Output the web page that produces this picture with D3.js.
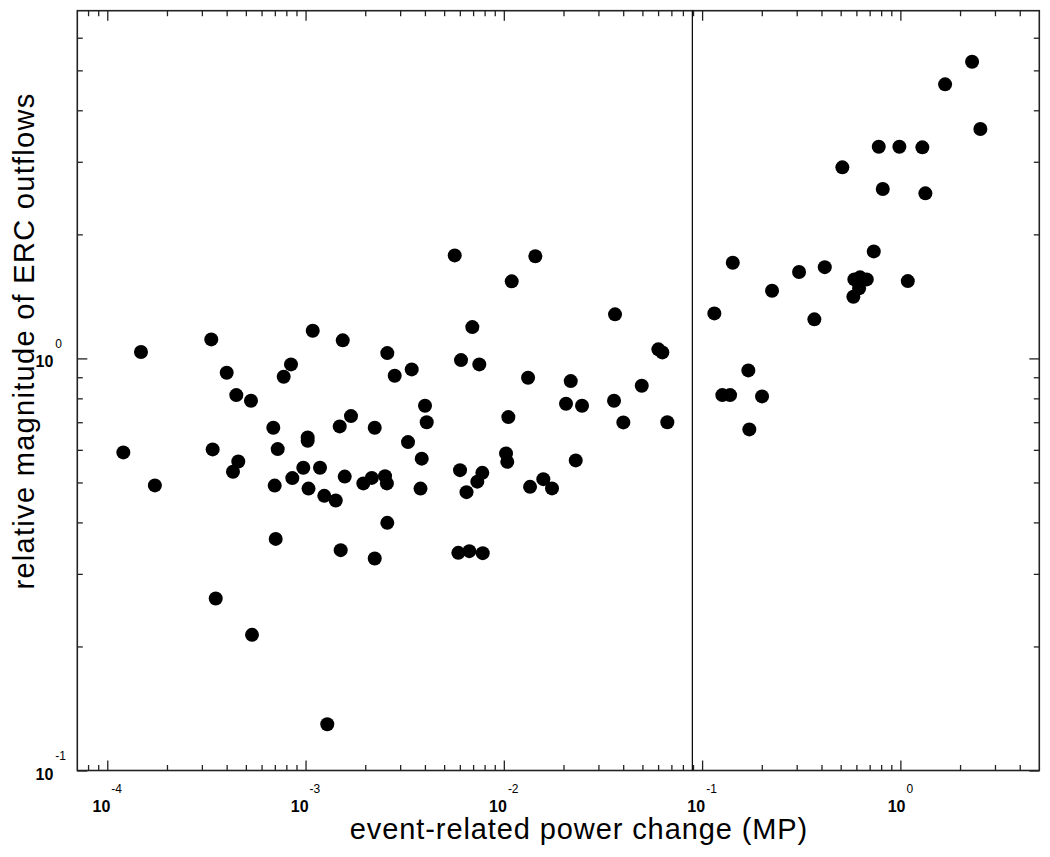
<!DOCTYPE html>
<html>
<head>
<meta charset="utf-8">
<script src="https://cdn.jsdelivr.net/npm/d3@7"></script>
<style>
  html, body { margin: 0; padding: 0; background: #fff; }
  svg { display: block; }
  text { font-family: "Liberation Sans", Arial, Helvetica, sans-serif; fill: #000; }
</style>
</head>
<body>
<svg id="chart" width="1050" height="857"></svg>
<script>
// ---- data ----
const powerChange = [1.205e-4, 1.479e-4, 1.738e-4, 3.346e-4, 3.400e-4, 3.523e-4, 4.002e-4, 4.305e-4, 4.474e-4, 4.579e-4,
  5.306e-4, 5.369e-4, 6.876e-4, 6.989e-4, 7.070e-4, 7.237e-4, 7.759e-4, 8.445e-4, 8.574e-4, 9.741e-4,
  1.025e-3, 1.025e-3, 1.035e-3, 1.087e-3, 1.183e-3, 1.243e-3, 1.287e-3, 1.420e-3, 1.487e-3, 1.504e-3,
  1.540e-3, 1.576e-3, 1.695e-3, 1.956e-3, 2.157e-3, 2.233e-3, 2.233e-3, 2.517e-3, 2.584e-3, 2.572e-3,
  2.584e-3, 2.816e-3, 3.287e-3, 3.431e-3, 3.800e-3, 3.854e-3, 4.004e-3, 4.084e-3, 5.653e-3, 5.895e-3,
  6.013e-3, 6.083e-3, 6.484e-3, 6.699e-3, 6.936e-3, 7.351e-3, 7.523e-3, 7.791e-3, 7.827e-3, 1.026e-2,
  1.041e-2, 1.054e-2, 1.096e-2, 1.325e-2, 1.356e-2, 1.442e-2, 1.582e-2, 1.750e-2, 2.059e-2, 2.175e-2,
  2.305e-2, 2.480e-2, 3.596e-2, 3.638e-2, 4.007e-2, 4.962e-2, 6.016e-2, 6.303e-2, 6.678e-2, 0.1153,
  0.1265, 0.1384, 0.1428, 0.1711, 0.1731, 0.2006, 0.2253, 0.3083, 0.3683, 0.4156,
  0.5098, 0.5793, 0.5861, 0.6191, 0.6263, 0.6769, 0.7342, 0.7780, 0.8152, 0.9885,
  1.090, 1.291, 1.337, 1.681, 2.300, 2.532];

const outflowMagnitude = [0.5914, 1.036, 0.4918, 1.112, 0.6014, 0.2615, 0.9226, 0.5306, 0.8146, 0.5623,
  0.7890, 0.2134, 0.6786, 0.4913, 0.3648, 0.6025, 0.9023, 0.9670, 0.5123, 0.5426,
  0.6431, 0.6310, 0.4831, 1.167, 0.5426, 0.4640, 0.1295, 0.4522, 0.6839, 0.3425,
  1.106, 0.5166, 0.7244, 0.4974, 0.5129, 0.6786, 0.3269, 0.5180, 1.030, 0.4974,
  0.3990, 0.9075, 0.6264, 0.9403, 0.4831, 0.5712, 0.7674, 0.6997, 1.778, 0.3374,
  0.5356, 0.9905, 0.4737, 0.3406, 1.191, 0.5023, 0.9670, 0.5276, 0.3368, 0.5881,
  0.5610, 0.7203, 1.538, 0.8972, 0.4879, 1.769, 0.5093, 0.4836, 0.7759, 0.8808,
  0.5655, 0.7674, 0.7890, 1.279, 0.6994, 0.8581, 1.052, 1.034, 0.7000, 1.286,
  0.8146, 0.8146, 1.706, 0.9352, 0.6725, 0.8088, 1.459, 1.620, 1.244, 1.665,
  2.908, 1.411, 1.555, 1.479, 1.573, 1.555, 1.818, 3.263, 2.576, 3.263,
  1.540, 3.252, 2.515, 4.624, 5.248, 3.602];

const xDomain = [7.06e-5, 5.02];
const yDomain = [0.1, 6.978];
const xMajorTicks = [1e-4, 1e-3, 1e-2, 1e-1, 1];
const xTickExponents = ["-4", "-3", "-2", "-1", "0"];
const yMajorTicks = [0.1, 1];
const yTickExponents = ["-1", "0"];
const thresholdX = 0.0893;
const xTitle = "event-related power change (MP)";
const yTitle = "relative magnitude of ERC outflows";

// ---- layout ----
const L = 77.3, R = 1039.3, T = 10.7, B = 770.5;
const svg = d3.select("#chart");

const x = d3.scaleLog().domain(xDomain).range([L, R]);
const y = d3.scaleLog().domain(yDomain).range([B, T]);

const isMajor = v => Math.abs(Math.log10(v) - Math.round(Math.log10(v))) < 1e-6;
const xMinor = x.ticks().filter(v => !isMajor(v) && x(v) > L + 1 && x(v) < R - 1);
const yMinor = y.ticks().filter(v => !isMajor(v) && y(v) > T + 1 && y(v) < B - 1);

const MAJ = 10, MIN = 5.5;
function addAxis(gen, transform, values, size) {
  const g = svg.append("g").attr("transform", transform)
    .call(gen.tickValues(values).tickSizeInner(-size).tickSizeOuter(0).tickFormat(""));
  g.select(".domain").remove();
  g.selectAll(".tick line").attr("stroke", "#222").attr("stroke-width", 1.3);
}
addAxis(d3.axisBottom(x), `translate(0,${B})`, xMajorTicks, MAJ);
addAxis(d3.axisBottom(x), `translate(0,${B})`, xMinor, MIN);
addAxis(d3.axisTop(x), `translate(0,${T})`, xMajorTicks, MAJ);
addAxis(d3.axisTop(x), `translate(0,${T})`, xMinor, MIN);
addAxis(d3.axisLeft(y), `translate(${L},0)`, yMajorTicks, MAJ);
addAxis(d3.axisLeft(y), `translate(${L},0)`, yMinor, MIN);
addAxis(d3.axisRight(y), `translate(${R},0)`, yMajorTicks, MAJ);
addAxis(d3.axisRight(y), `translate(${R},0)`, yMinor, MIN);

// frame
svg.append("rect").attr("x", L).attr("y", T).attr("width", R - L).attr("height", B - T)
  .attr("fill", "none").attr("stroke", "#222").attr("stroke-width", 1.6);

// threshold line
svg.append("line").attr("x1", x(thresholdX)).attr("x2", x(thresholdX))
  .attr("y1", T).attr("y2", B).attr("stroke", "#000").attr("stroke-width", 1.2);

// x tick labels
xMajorTicks.forEach((v, i) => {
  const t = svg.append("text").attr("x", x(v)).attr("y", B + 41).attr("text-anchor", "middle");
  t.append("tspan").attr("font-size", 16).attr("font-weight", "bold").text("10");
  t.append("tspan").attr("font-size", 12).attr("dx", 1).attr("dy", -18.5).text(xTickExponents[i]);
});

// y tick labels
yMajorTicks.forEach((v, i) => {
  const t = svg.append("text").attr("x", 35.5).attr("y", y(v) + 9).attr("text-anchor", "start");
  t.append("tspan").attr("font-size", 16).attr("font-weight", "bold").text("10");
  t.append("tspan").attr("font-size", 12).attr("dx", 2).attr("dy", -19.5).text(yTickExponents[i]);
});

// axis titles
svg.append("text").attr("x", 579).attr("y", 839).attr("text-anchor", "middle")
  .attr("font-size", 29).attr("letter-spacing", 0.9).text(xTitle);
svg.append("text").attr("transform", "translate(34,341) rotate(-90)").attr("text-anchor", "middle")
  .attr("font-size", 29).attr("letter-spacing", 1.3).text(yTitle);

// points
svg.append("g").selectAll("circle")
  .data(powerChange.map((v, i) => [v, outflowMagnitude[i]]))
  .join("circle")
  .attr("cx", d => x(d[0]))
  .attr("cy", d => y(d[1]))
  .attr("r", 7)
  .attr("fill", "#000");
</script>
</body>
</html>
